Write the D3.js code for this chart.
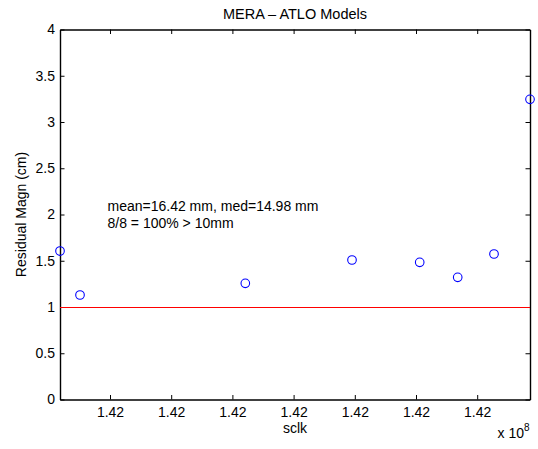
<!DOCTYPE html>
<html><head><meta charset="utf-8">
<script src="https://cdn.jsdelivr.net/npm/d3@7"></script>
<style>body{margin:0;background:#fff}svg text{font-family:"Liberation Sans",Arial,Helvetica,sans-serif;fill:#000}</style>
</head><body>
<script>
const sclk = [142001830, 142005098, 142032108, 142049542, 142060605, 142066814, 142072745, 142078627];
const residCm = [1.605, 1.13, 1.256, 1.508, 1.483, 1.321, 1.573, 3.245];
const xTicks = [142010000, 142020000, 142030000, 142040000, 142050000, 142060000, 142070000];
const yTicks = [0, 0.5, 1, 1.5, 2, 2.5, 3, 3.5, 4];
const thresholdCm = 1;
const titleText = "MERA \u2013 ATLO Models";
const xLabel = "sclk", yLabel = "Residual Magn (cm)";
const statLines = ["mean=16.42 mm, med=14.98 mm", "8/8 = 100% > 10mm"];

const W = 538, H = 449;
const m = {l: 60, r: 8, t: 29.5, b: 49.5};
const svg = d3.select("body").append("svg").attr("width", W).attr("height", H);
const x = d3.scaleLinear().domain(d3.extent(sclk)).range([m.l, W - m.r]);
const y = d3.scaleLinear().domain([0, 4]).range([H - m.b, m.t]);
const tl = 4.5;
const fs = 14;
const fmt = v => (v / 1e8).toFixed(2);

// axes (MATLAB style, inward ticks on all sides)
svg.append("g").attr("transform", `translate(0,${H - m.b})`)
  .call(d3.axisBottom(x).tickValues(xTicks).tickFormat(fmt).tickSizeInner(-tl).tickSizeOuter(0).tickPadding(8))
  .call(g => g.selectAll("text").attr("font-size", fs).attr("dy", "0.71em"));
svg.append("g").attr("transform", `translate(0,${m.t})`)
  .call(d3.axisTop(x).tickValues(xTicks).tickFormat("").tickSizeInner(-tl).tickSizeOuter(0));
svg.append("g").attr("transform", `translate(${m.l},0)`)
  .call(d3.axisLeft(y).tickValues(yTicks).tickFormat(d3.format("")).tickSizeInner(-tl).tickSizeOuter(0).tickPadding(5))
  .call(g => g.selectAll("text").attr("font-size", fs));
svg.append("g").attr("transform", `translate(${W - m.r},0)`)
  .call(d3.axisRight(y).tickValues(yTicks).tickFormat("").tickSizeInner(-tl).tickSizeOuter(0));
svg.selectAll(".domain").attr("stroke", "#000").attr("stroke-width", 1.4);
svg.selectAll(".tick line").attr("stroke", "#000").attr("stroke-width", 1);

// threshold line
svg.append("line").attr("x1", x.range()[0]).attr("x2", x.range()[1])
  .attr("y1", y(thresholdCm) + 0.5).attr("y2", y(thresholdCm) + 0.5)
  .attr("stroke", "#ff0000").attr("stroke-width", 1);

// points
svg.append("g").selectAll("circle").data(sclk).join("circle")
  .attr("cx", d => x(d)).attr("cy", (d, i) => y(residCm[i])).attr("r", 4.3)
  .attr("fill", "none").attr("stroke", "#0000ff").attr("stroke-width", 1.1);

// texts
svg.append("text").attr("x", (m.l + W - m.r) / 2).attr("y", 18.5).attr("text-anchor", "middle").attr("font-size", 14.5).text(titleText);
svg.append("text").attr("x", (m.l + W - m.r) / 2).attr("y", 433).attr("text-anchor", "middle").attr("font-size", fs).text(xLabel);
svg.append("text").attr("transform", `translate(26,${(m.t + H - m.b) / 2}) rotate(-90)`).attr("text-anchor", "middle").attr("font-size", fs).text(yLabel);
statLines.forEach((s, i) => svg.append("text").attr("x", 107.5).attr("y", 211 + i * 16.8).attr("font-size", fs).text(s));
const ex = svg.append("text").attr("x", 497.5).attr("y", 437.5).attr("font-size", fs);
ex.append("tspan").text("x 10");
ex.append("tspan").attr("font-size", 10).attr("dy", -7).text("8");
</script>
</body></html>
